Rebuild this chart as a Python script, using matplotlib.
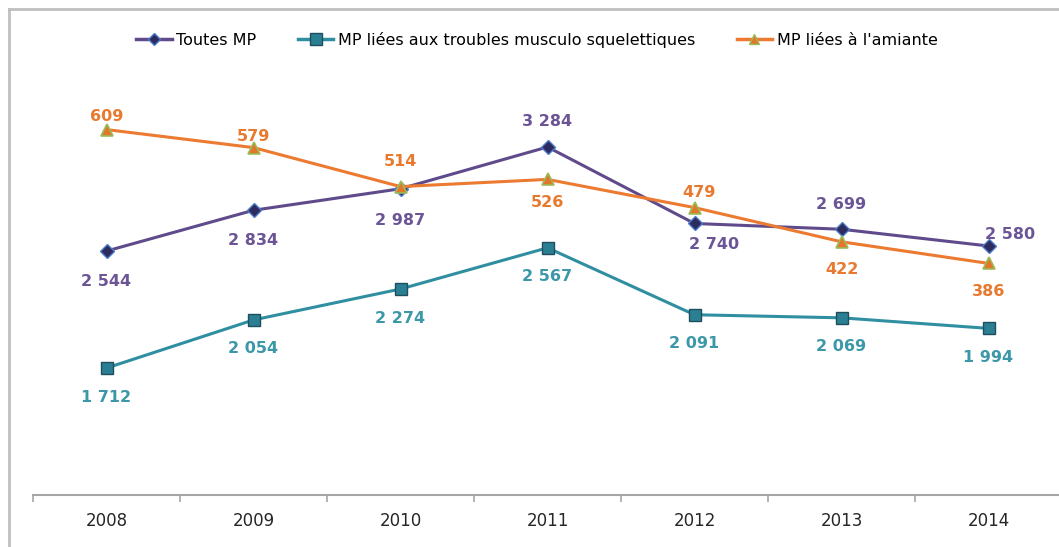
import matplotlib
matplotlib.use('Agg')
import matplotlib.pyplot as plt
from matplotlib.lines import Line2D
import numpy as np

plt.rcParams['font.family'] = ['Liberation Sans Narrow', 'DejaVu Sans']

annees = ['2008', '2009', '2010', '2011', '2012', '2013', '2014']
toutes_mp = [2544, 2834, 2987, 3284, 2740, 2699, 2580]
mp_tms = [1712, 2054, 2274, 2567, 2091, 2069, 1994]
mp_amiante = [609, 579, 514, 526, 479, 422, 386]

# label placement (offset in px): purple / orange vary, teal always below
off_toutes = [(0, -30), (0, -30), (0, -32), (0, 25), (20, -21), (0, 25), (22, 11)]
off_amiante = [(0, 13), (0, 11), (0, 25), (0, -23), (4, 15), (0, -28), (0, -28)]
off_tms = [(0, -29)] * 7

c_purple = '#5F4B8B'
c_purple_lbl = '#6B5596'
c_teal = '#2F8FA0'
c_teal_lbl = '#3C97A8'
c_orange = '#EC7A30'
c_orange_lbl = '#E8792E'

W, H = 1059, 547
fig = plt.figure(figsize=(W / 100, H / 100), dpi=100)

x0, x1 = 33, 1062
y_bot, y_top = 495, 75
ax = fig.add_axes([x0 / W, 1 - y_bot / H, (x1 - x0) / W, (y_bot - y_top) / H])
ax2 = ax.twinx()

x = np.arange(len(annees))

ax.plot(x, toutes_mp, color=c_purple, lw=2.2, marker='D', ms=7,
        mfc='#2E2B5F', mec='#4A7BC8', mew=1, zorder=3)
ax.plot(x, mp_tms, color=c_teal, lw=2.2, marker='s', ms=9,
        mfc='#2B7F92', mec='#1F4E5F', mew=1, zorder=3)
ax2.plot(x, mp_amiante, color=c_orange, lw=2.2, marker='^', ms=8,
         mfc='#E2762B', mec='#9BBB59', mew=1.2, zorder=3)

ax.set_xlim(-0.5, len(annees) - 0.5)
ax.set_ylim(809, 3796)
ax2.set_ylim(0, 700)

for i in x:
    ax.annotate(f'{toutes_mp[i]:,}'.replace(',', ' '), (i, toutes_mp[i]),
                xytext=off_toutes[i], textcoords='offset pixels',
                ha='center', va='center', color=c_purple_lbl,
                fontsize=11.5, fontweight='bold')
    ax.annotate(f'{mp_tms[i]:,}'.replace(',', ' '), (i, mp_tms[i]),
                xytext=off_tms[i], textcoords='offset pixels',
                ha='center', va='center', color=c_teal_lbl,
                fontsize=11.5, fontweight='bold')
    ax2.annotate(str(mp_amiante[i]), (i, mp_amiante[i]),
                 xytext=off_amiante[i], textcoords='offset pixels',
                 ha='center', va='center', color=c_orange_lbl,
                 fontsize=11.5, fontweight='bold')

for a in (ax, ax2):
    for s in ('top', 'right', 'left'):
        a.spines[s].set_visible(False)
    a.set_yticks([])
ax2.spines['bottom'].set_visible(False)
ax.spines['bottom'].set_color('#A6A6A6')
ax.spines['bottom'].set_linewidth(1.5)

ax.set_xticks(np.arange(-0.5, len(annees), 1.0))
ax.set_xticklabels([])
ax.tick_params(axis='x', which='major', length=5, color='#A6A6A6', width=1.2, direction='out')
ax.set_xticks(x, minor=True)
ax.set_xticklabels(annees, minor=True, fontsize=12, color='#262626')
ax.tick_params(axis='x', which='minor', length=0, pad=12)

handles = [
    Line2D([], [], color=c_purple, lw=2.5, marker='D', ms=6, mfc='#2E2B5F', mec='#4A7BC8'),
    Line2D([], [], color=c_teal, lw=2.5, marker='s', ms=8, mfc='#2B7F92', mec='#1F4E5F'),
    Line2D([], [], color=c_orange, lw=2.5, marker='^', ms=7, mfc='#E2762B', mec='#9BBB59'),
]
fig.legend(handles, ['Toutes MP', 'MP liées aux troubles musculo squelettiques',
                     "MP liées à l'amiante"],
           loc='center', bbox_to_anchor=(537 / W, 1 - 40 / H), ncol=3, frameon=False,
           fontsize=11.5, handlelength=2.2, handletextpad=0.3, columnspacing=2.6)

# chart border (top and left visible)
fig.add_artist(Line2D([9 / W, 1], [1 - 9 / H, 1 - 9 / H], color='#BFBFBF', lw=2,
                      transform=fig.transFigure))
fig.add_artist(Line2D([9 / W, 9 / W], [0, 1 - 9 / H], color='#BFBFBF', lw=2,
                      transform=fig.transFigure))

fig.savefig('out.png', dpi=100)
